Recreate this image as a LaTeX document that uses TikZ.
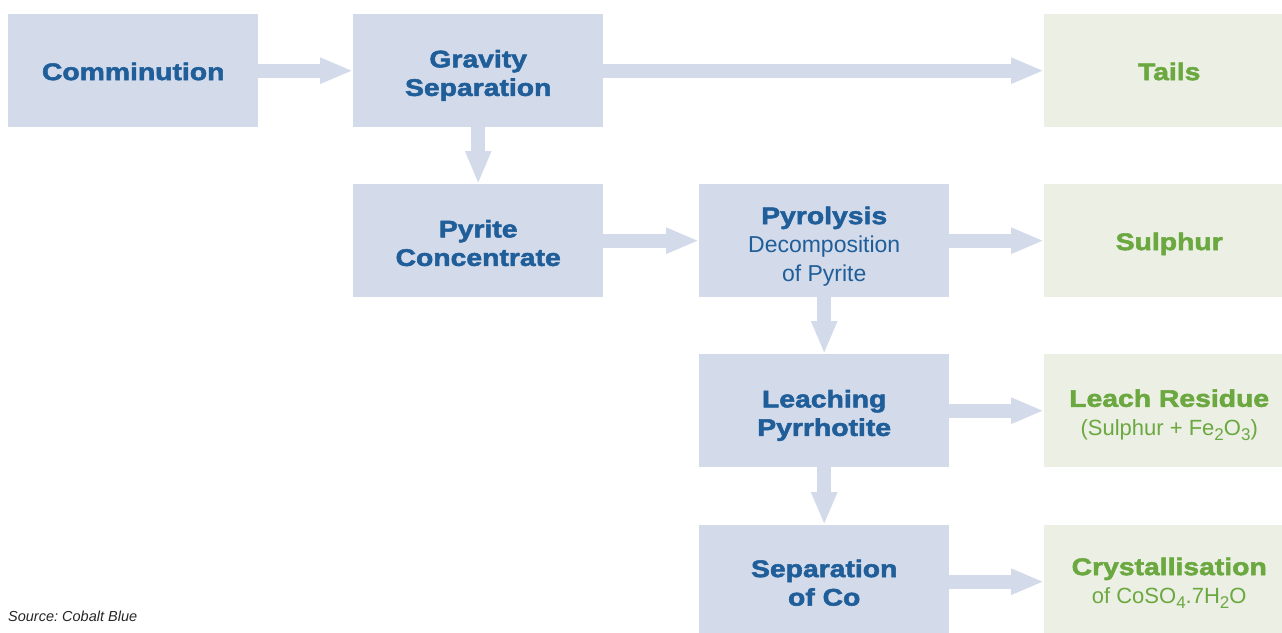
\documentclass[tikz,border=0pt]{standalone}
\usepackage{fontspec}
\setmainfont{Liberation Sans}
\newfontfamily\heavy{Liberation Sans Bold}[FakeStretch=1.18,FakeBold=2.2]
\newfontfamily\plain{Liberation Sans}
\usetikzlibrary{arrows.meta}
\definecolor{boxblue}{HTML}{D3DAEA}
\definecolor{boxgreen}{HTML}{ECEFE4}
\definecolor{txtblue}{HTML}{1F5E99}
\definecolor{txtgreen}{HTML}{6BA840}
\newcommand{\ttl}{\heavy\fontsize{24}{28.5}\selectfont}
\newcommand{\sub}{\plain\fontsize{23}{28.5}\selectfont}
\newcommand{\gsub}{\plain\fontsize{22}{28.5}\selectfont}
\newcommand{\lowidx}[1]{\raisebox{-5pt}{\fontsize{17}{17}\selectfont #1}}
\begin{document}
\frenchspacing
\begin{tikzpicture}[x=1pt,y=-1pt,
  box/.style={fill=boxblue,minimum width=250pt,minimum height=113pt,inner sep=0pt,
    anchor=north west},
  gbox/.style={box,fill=boxgreen},
  lbl/.style={anchor=north,inner sep=0pt,align=center,text=txtblue,font=\ttl},
  glbl/.style={lbl,text=txtgreen},
  flow/.style={draw=boxblue,line width=14pt,-{Triangle[width=24pt,length=33pt]}}]
\useasboundingbox (0,0) rectangle (1282,632);
\clip (0,0) rectangle (1282,632);
% boxes
\node[box] (comm) at (8,14) {};
\node[box] (grav) at (353,14) {};
\node[gbox] (tails) at (1044,14) {};
\node[box] (pyc) at (353,184) {};
\node[box] (pyro) at (699,184) {};
\node[gbox] (sulph) at (1044,184) {};
\node[box] (leach) at (699,354) {};
\node[gbox] (resid) at (1044,354) {};
\node[box] (sepco) at (699,525) {};
\node[gbox] (cryst) at (1044,525) {};
% texts
\node[lbl] (comm-t) at ([yshift=-48.5pt]comm.north) {Comminution};
\node[lbl] (grav-t) at ([yshift=-35.8pt]grav.north) {Gravity\\Separation};
\node[glbl] (tails-t) at ([yshift=-48.5pt]tails.north) {Tails};
\node[lbl] (pyc-t) at ([yshift=-35.8pt]pyc.north) {Pyrite\\Concentrate};
\node[lbl] (pyro-t) at ([yshift=-22.5pt]pyro.north) {Pyrolysis\\{\sub Decomposition}\\{\sub of Pyrite}};
\node[glbl] (sulph-t) at ([yshift=-48.5pt]sulph.north) {Sulphur};
\node[lbl] (leach-t) at ([yshift=-35.8pt]leach.north) {Leaching\\Pyrrhotite};
\node[glbl] (resid-t) at ([yshift=-35.2pt]resid.north) {Leach Residue\\{\gsub (Sulphur + Fe\lowidx{2}O\lowidx{3})}};
\node[lbl] (sepco-t) at ([yshift=-34.5pt]sepco.north) {Separation\\of Co};
\node[glbl] (cryst-t) at ([yshift=-32.5pt]cryst.north) {Crystallisation\\{\gsub of CoSO\lowidx{4}.7H\lowidx{2}O}};
% connectors
\draw[flow] (comm.east) -- (grav.west);
\draw[flow] (grav.east) -- (tails.west);
\draw[flow] (grav.south) -- (pyc.north);
\draw[flow] (pyc.east) -- (pyro.west);
\draw[flow] (pyro.east) -- (sulph.west);
\draw[flow] (pyro.south) -- (leach.north);
\draw[flow] (leach.east) -- (resid.west);
\draw[flow] (leach.south) -- (sepco.north);
\draw[flow] (sepco.east) -- (cryst.west);
\node[anchor=base west,inner sep=0pt,text=black!85,font=\plain\fontsize{14.5}{16}\selectfont\itshape] (src) at (8,621) {Source: Cobalt Blue};
\end{tikzpicture}
\end{document}
